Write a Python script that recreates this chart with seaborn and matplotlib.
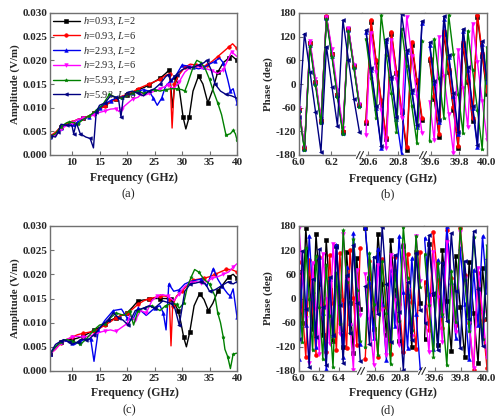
import numpy as np
import pandas as pd
import matplotlib
matplotlib.use('Agg')
import matplotlib.pyplot as plt
import seaborn as sns
from matplotlib.lines import Line2D

sns.set_theme(style='ticks')
plt.rcParams['font.family'] = ['Liberation Serif', 'DejaVu Serif']
plt.rcParams['mathtext.fontset'] = 'custom'
plt.rcParams['mathtext.rm'] = 'Liberation Serif'
plt.rcParams['mathtext.it'] = 'Liberation Serif:italic'
plt.rcParams['mathtext.bf'] = 'Liberation Serif:bold'

# ---------------- series definitions ----------------
series = ['black', 'red', 'blue', 'magenta', 'green', 'navy']
series_labels = [r'$h$=0.93, $L$=2', r'$h$=0.93, $L$=6', r'$h$=2.93, $L$=2',
                 r'$h$=2.93, $L$=6', r'$h$=5.93, $L$=2', r'$h$=5.93, $L$=6']
series_colors = ['#000000', '#FF0000', '#0000EE', '#FF00FF', '#008000', '#000080']
series_markers = ['s', 'o', '^', 'v', '*', '<']

# ---------------- amplitude, panel (a) ----------------
a_black_f = [6, 7, 8, 9, 10, 11, 12, 13, 14, 15, 16, 17, 18, 19, 20, 21, 22, 23, 24, 25, 26, 27, 27.7, 28.3, 28.8, 29.5, 30.2, 30.7, 31.3, 32, 33, 33.8, 34.7, 35.5, 36.5, 37.5, 38.5, 39, 40]
a_black_v = [0.0040, 0.0045, 0.0060, 0.0065, 0.0068, 0.0075, 0.0078, 0.0082, 0.0088, 0.0098, 0.0105, 0.0112, 0.0118, 0.0122, 0.0126, 0.0132, 0.0138, 0.0142, 0.0148, 0.0155, 0.0162, 0.0172, 0.0180, 0.0100, 0.0165, 0.0140, 0.0080, 0.0055, 0.0080, 0.0135, 0.0167, 0.0150, 0.0110, 0.0135, 0.0175, 0.0195, 0.0205, 0.0210, 0.0200]
a_red_f = [6, 7, 8, 9, 10, 11, 12, 13, 14, 15, 16, 17, 18, 19, 20, 21, 22, 23, 24, 25, 26, 27, 27.8, 28.2, 28.6, 29.5, 30.5, 31.5, 32.5, 33.5, 34.5, 35.5, 36.5, 37.5, 38.5, 39.2, 40]
a_red_v = [0.0040, 0.0048, 0.0060, 0.0066, 0.0070, 0.0075, 0.0078, 0.0082, 0.0088, 0.0096, 0.0104, 0.0112, 0.0118, 0.0124, 0.0128, 0.0133, 0.0140, 0.0145, 0.0150, 0.0155, 0.0160, 0.0168, 0.0172, 0.0057, 0.0150, 0.0170, 0.0185, 0.0192, 0.0190, 0.0185, 0.0190, 0.0198, 0.0208, 0.0218, 0.0228, 0.0235, 0.0225]
a_blue_f = [6, 7, 8, 9, 10, 10.5, 11, 12, 13, 14, 15, 16, 17, 18, 19, 20, 21, 22, 23, 24, 24.8, 25.5, 26.3, 27, 28, 29, 30, 31, 32, 33, 34, 35, 36, 36.8, 37.5, 38.3, 38.8, 39.3, 40]
a_blue_v = [0.0038, 0.0042, 0.0058, 0.0063, 0.0065, 0.0060, 0.0070, 0.0075, 0.0080, 0.0088, 0.0100, 0.0108, 0.0115, 0.0120, 0.0122, 0.0125, 0.0130, 0.0135, 0.0138, 0.0135, 0.0120, 0.0105, 0.0120, 0.0145, 0.0158, 0.0170, 0.0190, 0.0188, 0.0185, 0.0182, 0.0185, 0.0192, 0.0198, 0.0205, 0.0195, 0.0160, 0.0135, 0.0140, 0.0110]
a_mag_f = [6, 7, 8, 9, 10, 11, 12, 13, 14, 15, 16, 17, 18, 18.5, 19, 20, 21, 22, 22.5, 23, 24, 25, 26, 27, 27.5, 28.5, 29.5, 30.5, 31.5, 32.5, 33.5, 34.5, 35.5, 36.5, 37.5, 38.5, 39, 40]
a_mag_v = [0.0038, 0.0042, 0.0055, 0.0062, 0.0068, 0.0075, 0.0078, 0.0080, 0.0085, 0.0090, 0.0093, 0.0097, 0.0098, 0.0092, 0.0098, 0.0108, 0.0118, 0.0122, 0.0128, 0.0125, 0.0130, 0.0135, 0.0140, 0.0145, 0.0148, 0.0140, 0.0155, 0.0175, 0.0185, 0.0188, 0.0185, 0.0182, 0.0178, 0.0172, 0.0180, 0.0205, 0.0218, 0.0208]
a_green_f = [6, 7, 8, 9, 9.5, 10.5, 11, 12, 13, 14, 14.5, 15.5, 16.8, 18, 19, 20, 21, 22, 23, 24, 25, 26, 27, 28, 29, 30, 30.5, 31, 32, 32.7, 33.5, 34.3, 35, 35.7, 36.5, 37.2, 38, 38.8, 39.3, 39.7, 40]
a_green_v = [0.0038, 0.0045, 0.0060, 0.0068, 0.0070, 0.0068, 0.0065, 0.0075, 0.0082, 0.0090, 0.0096, 0.0105, 0.0128, 0.0122, 0.0120, 0.0125, 0.0130, 0.0136, 0.0130, 0.0135, 0.0138, 0.0135, 0.0138, 0.0140, 0.0140, 0.0138, 0.0135, 0.0150, 0.0185, 0.0200, 0.0195, 0.0180, 0.0160, 0.0135, 0.0110, 0.0085, 0.0042, 0.0045, 0.0052, 0.0045, 0.0032]
a_navy_f = [6, 7, 7.5, 8, 9, 10, 10.3, 10.8, 11.5, 12.5, 13.3, 13.9, 14.4, 15, 16, 17, 18, 18.5, 18.9, 19.3, 20, 21, 22, 23, 24, 25, 26, 27, 27.5, 28, 29, 30, 31, 32, 33, 34, 34.5, 35.3, 36, 37, 38, 39, 40]
a_navy_v = [0.0040, 0.0038, 0.0048, 0.0065, 0.0063, 0.0062, 0.0045, 0.0068, 0.0045, 0.0038, 0.0035, 0.0015, 0.0090, 0.0105, 0.0110, 0.0125, 0.0122, 0.0115, 0.0080, 0.0120, 0.0132, 0.0135, 0.0130, 0.0125, 0.0135, 0.0140, 0.0150, 0.0165, 0.0170, 0.0155, 0.0170, 0.0180, 0.0185, 0.0185, 0.0190, 0.0195, 0.0200, 0.0180, 0.0150, 0.0135, 0.0128, 0.0125, 0.0120]

# ---------------- amplitude, panel (c) ----------------
c_black_f = [6, 7, 8, 9, 10, 11, 12, 13, 14, 15, 16, 17, 18, 19, 20, 21, 22, 23, 24, 25, 26, 27, 28, 28.7, 29.3, 29.8, 30.3, 30.8, 31.4, 32.2, 33.2, 34, 34.8, 35.6, 36.5, 37.5, 38.5, 39.3, 40]
c_black_v = [0.0035, 0.0050, 0.0060, 0.0065, 0.0065, 0.0068, 0.0072, 0.0078, 0.0085, 0.0090, 0.0098, 0.0105, 0.0110, 0.0115, 0.0120, 0.0132, 0.0145, 0.0147, 0.0148, 0.0150, 0.0150, 0.0150, 0.0148, 0.0138, 0.0125, 0.0100, 0.0070, 0.0050, 0.0080, 0.0135, 0.0160, 0.0148, 0.0125, 0.0140, 0.0165, 0.0180, 0.0195, 0.0200, 0.0192]
c_red_f = [6, 7, 8, 9, 10, 11, 12, 13, 14, 15, 16, 17, 18, 19, 20, 21, 22, 23, 24, 25, 26, 27, 27.7, 28.0, 28.3, 29, 30, 31, 32, 33, 34, 35, 36, 37, 38, 39, 40]
c_red_v = [0.0035, 0.0045, 0.0058, 0.0065, 0.0070, 0.0075, 0.0078, 0.0080, 0.0082, 0.0088, 0.0095, 0.0102, 0.0110, 0.0115, 0.0120, 0.0128, 0.0138, 0.0145, 0.0150, 0.0152, 0.0155, 0.0155, 0.0150, 0.0052, 0.0135, 0.0155, 0.0165, 0.0178, 0.0188, 0.0190, 0.0192, 0.0195, 0.0200, 0.0205, 0.0210, 0.0210, 0.0205]
c_blue_f = [6, 7, 8, 9, 10, 10.5, 11.5, 12.5, 13.4, 14, 14.8, 16, 17.5, 19, 20, 21, 22, 23.5, 25, 26, 26.6, 27.1, 27.6, 28.5, 29.5, 30.5, 31.5, 32.5, 33.5, 34.5, 35.7, 36.5, 37.3, 38.3, 38.8, 39.3, 40]
c_blue_v = [0.0035, 0.0050, 0.0060, 0.0062, 0.0058, 0.0055, 0.0062, 0.0066, 0.0066, 0.0020, 0.0085, 0.0105, 0.0125, 0.0128, 0.0110, 0.0105, 0.0130, 0.0115, 0.0130, 0.0135, 0.0120, 0.0085, 0.0180, 0.0165, 0.0168, 0.0180, 0.0185, 0.0188, 0.0190, 0.0175, 0.0212, 0.0190, 0.0175, 0.0160, 0.0155, 0.0170, 0.0112]
c_mag_f = [6, 7, 8, 9, 10, 11, 12, 13, 14, 15, 16, 17, 18, 19, 20, 20.5, 21.5, 22.5, 23.5, 24.5, 25.5, 26.5, 27.5, 28.5, 29.5, 30.5, 31.5, 32.5, 33.5, 34.5, 35.5, 36.5, 37.5, 38.5, 39.3, 40]
c_mag_v = [0.0035, 0.0045, 0.0058, 0.0065, 0.0070, 0.0072, 0.0070, 0.0072, 0.0075, 0.0080, 0.0083, 0.0085, 0.0082, 0.0090, 0.0098, 0.0115, 0.0105, 0.0125, 0.0120, 0.0145, 0.0155, 0.0158, 0.0155, 0.0145, 0.0160, 0.0175, 0.0182, 0.0185, 0.0182, 0.0185, 0.0192, 0.0195, 0.0200, 0.0205, 0.0215, 0.0222]
c_green_f = [6, 7, 8, 9, 10, 11, 11.5, 12.5, 14, 15, 16, 17, 18, 19.5, 20.5, 21.2, 22, 23, 24.5, 26, 27, 28, 29, 29.5, 30.3, 31, 31.7, 32.3, 33, 34, 35, 36, 36.5, 37, 37.5, 37.8, 38.3, 38.8, 39.3, 40]
c_green_v = [0.0035, 0.0050, 0.0060, 0.0065, 0.0062, 0.0058, 0.0055, 0.0065, 0.0085, 0.0095, 0.0098, 0.0110, 0.0120, 0.0115, 0.0125, 0.0095, 0.0125, 0.0130, 0.0135, 0.0125, 0.0135, 0.0140, 0.0138, 0.0130, 0.0140, 0.0175, 0.0195, 0.0210, 0.0205, 0.0190, 0.0180, 0.0155, 0.0120, 0.0100, 0.0070, 0.0045, 0.0030, 0.0005, 0.0035, 0.0037]
c_navy_f = [6, 7, 8, 8.5, 9.5, 10, 11, 11.5, 12.5, 13, 14, 15.5, 16.5, 17.5, 18.5, 19.3, 20.2, 21.5, 23, 24, 25, 26.5, 28, 28.7, 29.5, 30.5, 31.5, 32.5, 33.5, 34.3, 35, 36, 37, 38, 38.5, 39.3, 40]
c_navy_v = [0.0035, 0.0055, 0.0062, 0.0065, 0.0060, 0.0055, 0.0060, 0.0065, 0.0065, 0.0065, 0.0075, 0.0095, 0.0105, 0.0120, 0.0110, 0.0105, 0.0095, 0.0125, 0.0130, 0.0135, 0.0130, 0.0145, 0.0140, 0.0130, 0.0095, 0.0165, 0.0180, 0.0182, 0.0185, 0.0180, 0.0165, 0.0168, 0.0175, 0.0182, 0.0185, 0.0180, 0.0185]

# ---------------- phase, panel (b) ----------------
b_f1 = [6.000, 6.034, 6.068, 6.102, 6.136, 6.170, 6.204, 6.238, 6.272, 6.306, 6.340, 6.374]
b_f2 = [20.586, 20.620, 20.654, 20.688, 20.722, 20.756, 20.790, 20.824, 20.858, 20.892, 20.926, 20.960]
b_f3 = [39.592, 39.626, 39.660, 39.694, 39.728, 39.762, 39.796, 39.830, 39.864, 39.898, 39.932, 39.966, 40.000]
b_seg1 = {
    'black':   [-65, -163, 103, 5, -93, 171, 75, -27, -121, 139, 45, -53],
    'red':     [-64, -162, 104, 6, -92, 172, 76, -26, -120, 140, 46, -52],
    'blue':    [-66, -165, 100, 3, -96, 168, 72, -28, -124, 138, 44, -54],
    'magenta': [-62, -160, 110, 12, -88, 170, 88, -14, -112, 142, 48, -50],
    'green':   [-70, -168, 96, -2, -100, 164, 68, -32, -128, 134, 40, -58],
    'navy':    [-83, 128, 31, -70, -172, 95, -7, -106, 162, 61, -39, -121],
}
b_seg2 = {
    'black':   [-100, 158, 57, -45, -140, 128, 27, -72, -168, 100, 4, -92],
    'red':     [-95, 162, 61, -41, -134, 133, 31, -66, -159, 107, 10, -85],
    'blue':    [132, 35, -62, -162, 108, 14, -88, -178, 80, -20, -110, 155],
    'magenta': [-130, 130, 30, -66, -162, 112, 12, -86, 170, 70, -30, -125],
    'green':   [115, 15, -85, 175, 74, -23, -121, 140, 45, -55, -150, 110],
    'navy':    [137, 40, -57, -157, 113, 19, -83, 177, 86, -15, -104, 160],
}
b_seg3 = {
    'black':   [60, -37, -135, 128, 30, -66, -163, 100, 4, -94, 170, 72, -25],
    'red':     [66, -31, -128, 135, 38, -59, -156, 107, 10, -87, 176, 79, -18],
    'blue':    [100, 2, -96, 166, 68, -30, -128, 134, 36, -62, -160, 102, 4],
    'magenta': [-45, -143, 119, 21, -77, -175, 87, -11, -109, 153, 55, -43, -141],
    'green':   [-145, 115, 15, -85, 175, 75, -25, -125, 135, 35, -65, -165, 95],
    'navy':    [106, 8, -90, 172, 74, -24, -122, 140, 42, -56, -154, 108, 10],
}

# ---------------- phase, panel (d) ----------------
d_f1 = [6.000, 6.034, 6.068, 6.102, 6.136, 6.170, 6.204, 6.238, 6.272, 6.306, 6.340, 6.374, 6.408, 6.442, 6.476, 6.510, 6.544, 6.578, 6.612]
d_f2 = [20.518, 20.552, 20.586, 20.620, 20.654, 20.688, 20.722, 20.756, 20.790, 20.824, 20.858, 20.892, 20.926, 20.960]
d_f3 = [39.524, 39.558, 39.592, 39.626, 39.660, 39.694, 39.728, 39.762, 39.796, 39.830, 39.864, 39.898, 39.932, 39.966, 40.000]
d_seg1 = {
    'black':   [65, -60, 175, 50, -75, 160, 35, -90, 145, 20, -105, 130, 5, -120, 115, -10, -135, 100, -25],
    'red':     [90, -28, -146, 96, -22, -140, 102, -16, -134, 108, -10, -128, 114, -4, -122, 120, 2, -116, 126],
    'blue':    [-150, 72, -66, 156, 18, -120, 102, -36, -174, 48, -90, 132, -6, -144, 78, -60, 162, 24, -114],
    'magenta': [175, 63, -49, -161, 87, -25, -137, 111, -1, -113, 135, 23, -89, 159, 47, -65, -177, 71, -41],
    'green':   [20, -107, 126, -1, -128, 105, -22, -149, 84, -43, -170, 63, -64, 169, 42, -85, 148, 21, -106],
    'navy':    [-100, 117, -26, -169, 48, -95, 122, -21, -164, 53, -90, 127, -16, -159, 58, -85, 132, -11, -154],
}
d_seg2 = {
    'black':   [175, 50, -75, 160, 35, -90, 145, 20, -105, 130, 5, -120, 115, -10],
    'red':     [-150, 92, -26, -144, 98, -20, -138, 104, -14, -132, 110, -8, -126, 116],
    'blue':    [178, 40, -98, 124, -14, -152, 70, -68, 154, 16, -122, 100, -38, -176],
    'magenta': [60, -52, -164, 84, -28, -140, 108, -4, -116, 132, 20, -92, 156, 44],
    'green':   [-120, 113, -14, -141, 92, -35, -162, 71, -56, 177, 50, -77, 156, 29],
    'navy':    [30, -113, 104, -39, 178, 35, -108, 109, -34, -177, 40, -103, 114, -29],
}
d_seg3 = {
    'black':   [-100, 135, 10, -115, 120, -5, -130, 105, -20, -145, 90, -35, -160, 75, -50],
    'red':     [40, -78, 164, 46, -72, 170, 52, -66, 176, 58, -60, -178, 64, -54, -172],
    'blue':    [150, 12, -126, 96, -42, 179, 41, -97, 125, -13, -151, 71, -67, 155, 17],
    'magenta': [-20, -132, 116, 4, -108, 140, 28, -84, 164, 52, -60, -172, 76, -36, -148],
    'green':   [110, -17, -144, 89, -38, -165, 68, -59, 174, 47, -80, 153, 26, -101, 132],
    'navy':    [-60, 157, 14, -129, 88, -55, 162, 19, -124, 93, -50, 167, 24, -119, 98],
}

amp_ticks = [0.000, 0.005, 0.010, 0.015, 0.020, 0.025, 0.030]
freq_ticks = [10, 15, 20, 25, 30, 35, 40]
phase_ticks = [-180, -120, -60, 0, 60, 120, 180]

# ---------------- figure ----------------
W, H = 500, 416
fig = plt.figure(figsize=(W / 100, H / 100), dpi=100)
SPINE = '#707070'
TICKFS = 8
LABELFS = 8.5


def fx(px):
    return px / W


def fy(py):
    return 1 - py / H


def style_ax(ax):
    for s in ax.spines.values():
        s.set_color(SPINE)
        s.set_linewidth(1.0)
    ax.tick_params(direction='in', length=3, width=0.8, color=SPINE,
                   labelsize=TICKFS, pad=2)
    ax.grid(False)


def line(ax, f, v, i, every=2, label=None, ms=3):
    sns.lineplot(x=f, y=v, ax=ax, color=series_colors[i], marker=series_markers[i],
                 markersize=ms, markeredgewidth=0.4, markeredgecolor=series_colors[i],
                 linewidth=1.0, markevery=every, sort=False, estimator=None,
                 label=label)


def amp_panel(rect, data, legend):
    ax = fig.add_axes(rect)
    for i, (f, v) in enumerate(data):
        line(ax, f, v, i, every=2, ms=2.6, label=series_labels[i] if legend else None)
    ax.set_xlim(6, 40)
    ax.set_ylim(0, 0.030)
    ax.set_xticks(freq_ticks)
    ax.set_xticklabels([str(t) for t in freq_ticks], fontweight='bold', fontsize=TICKFS)
    ax.set_yticks(amp_ticks)
    ax.set_yticklabels(['%.3f' % t for t in amp_ticks], fontweight='bold', fontsize=TICKFS)
    ax.set_xlabel('')
    ax.set_ylabel('Amplitude (V/m)', fontweight='bold', fontsize=7.8, labelpad=2)
    style_ax(ax)
    if legend:
        ax.legend(loc='upper left', frameon=False, fontsize=7.5, handlelength=2.6,
                  labelspacing=0.22, borderaxespad=0.1, borderpad=0.15,
                  handletextpad=0.3, numpoints=1)
    else:
        lg = ax.get_legend()
        if lg is not None:
            lg.remove()
    return ax


def phase_panel(bounds, ytop, ybot, segs, freqs, xlims, ticks):
    axes = []
    n = len(segs)
    for k in range(n):
        rect = [fx(bounds[k]), fy(ybot), fx(bounds[k + 1]) - fx(bounds[k]), fy(ytop) - fy(ybot)]
        ax = fig.add_axes(rect)
        for i, key in enumerate(series):
            line(ax, freqs[k], segs[k][key], i, every=1, ms=2.8)
        ax.set_xlim(*xlims[k])
        ax.set_ylim(-180, 180)
        ax.set_xticks(ticks[k])
        ax.set_xticklabels(['%.1f' % t for t in ticks[k]], fontweight='bold', fontsize=TICKFS)
        ax.set_xlabel('')
        style_ax(ax)
        if k == 0:
            ax.set_yticks(phase_ticks)
            ax.set_yticklabels([str(t) for t in phase_ticks], fontweight='bold', fontsize=TICKFS)
            ax.set_ylabel('Phase (deg)', fontweight='bold', fontsize=7.8, labelpad=2)
            ax.spines['right'].set_visible(False)
        else:
            ax.set_yticks([])
            ax.set_ylabel('')
            ax.spines['left'].set_visible(False)
            if k < n - 1:
                ax.spines['right'].set_visible(False)
        axes.append(ax)
    # axis-break marks on the bottom axis
    for k in range(1, n):
        xb = bounds[k]
        fig.add_artist(Line2D([fx(xb - 5), fx(xb + 1.5)], [fy(ybot), fy(ybot)],
                              color='white', lw=2.2, transform=fig.transFigure))
        for off in (-3.7, -0.3):
            fig.add_artist(Line2D([fx(xb + off - 1.8), fx(xb + off + 1.8)],
                                  [fy(ybot + 3.5), fy(ybot - 3.5)],
                                  color='#333333', lw=0.8, transform=fig.transFigure))
    return axes


a_data = [(a_black_f, a_black_v), (a_red_f, a_red_v), (a_blue_f, a_blue_v),
          (a_mag_f, a_mag_v), (a_green_f, a_green_v), (a_navy_f, a_navy_v)]
c_data = [(c_black_f, c_black_v), (c_red_f, c_red_v), (c_blue_f, c_blue_v),
          (c_mag_f, c_mag_v), (c_green_f, c_green_v), (c_navy_f, c_navy_v)]

amp_panel([fx(50), fy(155), fx(237) - fx(50), fy(13) - fy(155)], a_data, True)
amp_panel([fx(50), fy(371), fx(237) - fx(50), fy(226) - fy(371)], c_data, False)

phase_panel([299, 362, 425, 487], 13, 155, [b_seg1, b_seg2, b_seg3], [b_f1, b_f2, b_f3],
            [(6.0, 6.39), (20.56, 20.98), (39.56, 40.0)],
            [[6.0, 6.2], [20.6, 20.8], [39.6, 39.8, 40.0]])
phase_panel([299, 363, 424, 487], 226, 371, [d_seg1, d_seg2, d_seg3], [d_f1, d_f2, d_f3],
            [(6.0, 6.64), (20.5, 20.99), (39.52, 40.0)],
            [[6.0, 6.2, 6.4], [20.6, 20.8], [39.6, 39.8, 40.0]])

# x-axis titles and panel tags
for xc, yl, tag, yt in [(134, 178, '(a)', 194), (393, 179, '(b)', 194),
                        (135, 393, '(c)', 410), (393, 393, '(d)', 410)]:
    fig.text(fx(xc), fy(yl), 'Frequency (GHz)', ha='center', va='center',
             fontweight='bold', fontsize=LABELFS)
    fig.text(fx(xc - 6 if tag in ('(a)', '(c)') else xc - 5), fy(yt), tag,
             ha='center', va='center', fontsize=9)

fig.savefig('out.png', dpi=100)
